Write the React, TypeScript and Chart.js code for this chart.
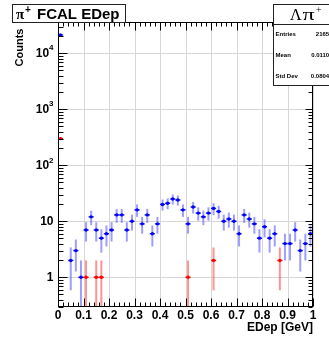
import React, { useEffect, useRef } from "react";
import { Chart, registerables } from "chart.js";

Chart.register(...registerables);

// ---------- data ----------
const binWidth = 0.02;
const binCenters = [
  0.01, 0.03, 0.05, 0.07, 0.09, 0.11, 0.13, 0.15, 0.17, 0.19,
  0.21, 0.23, 0.25, 0.27, 0.29, 0.31, 0.33, 0.35, 0.37, 0.39,
  0.41, 0.43, 0.45, 0.47, 0.49, 0.51, 0.53, 0.55, 0.57, 0.59,
  0.61, 0.63, 0.65, 0.67, 0.69, 0.71, 0.73, 0.75, 0.77, 0.79,
  0.81, 0.83, 0.85, 0.87, 0.89, 0.91, 0.93, 0.95, 0.97, 0.99,
];
const blueCounts = [
  21180, 0, 2, 3, 1, 7, 12, 7, 5, 6,
  7, 13, 13, 7, 10, 16, 9, 13, 6, 9,
  20, 21, 25, 24, 16, 9, 18, 14, 12, 14,
  17, 15, 10, 11, 10, 6, 13, 11, 9, 5,
  8, 5, 6, 0, 4, 4, 7, 3, 4, 6,
];
const redCounts = [
  300, 0, 0, 0, 0, 1, 0, 1, 1, 0,
  0, 0, 0, 0, 0, 0, 0, 0, 0, 0,
  0, 0, 0, 0, 0, 1, 0, 0, 0, 0,
  2, 0, 0, 0, 0, 0, 0, 0, 0, 0,
  0, 0, 0, 2, 0, 0, 0, 0, 0, 0,
];
const xTickValues = [0, 0.1, 0.2, 0.3, 0.4, 0.5, 0.6, 0.7, 0.8, 0.9, 1];
const xTickLabels = ["0", "0.1", "0.2", "0.3", "0.4", "0.5", "0.6", "0.7", "0.8", "0.9", "1"];
const yTickValues = [1, 10, 100, 1000, 10000];
const yTickBases = ["1", "10", "10", "10", "10"];
const yTickExponents = ["", "", "2", "3", "4"];
const statsLabels = ["Entries", "Mean", "Std Dev"];
const statsValues = ["21653", "0.01104", "0.08042"];

const Y_MIN = 0.295;
const Y_MAX = 36200;

function toPoints(counts: number[]) {
  const pts: { x: number; y: number }[] = [];
  counts.forEach((n, i) => {
    if (n > 0) pts.push({ x: binCenters[i], y: n });
  });
  return pts;
}

function drawErrors(chart: any, counts: number[], barColor: string, capColor: string) {
  const { ctx, chartArea: a, scales } = chart;
  const xs = scales.x;
  const ys = scales.y;
  counts.forEach((n, i) => {
    if (n <= 0) return;
    const cx = xs.getPixelForValue(binCenters[i]);
    const e = Math.sqrt(n);
    const hi = n + e;
    const lo = n - e;
    const pyHi = ys.getPixelForValue(hi);
    const pyLo = lo > Y_MIN ? ys.getPixelForValue(lo) : a.bottom;
    const py = ys.getPixelForValue(n);
    ctx.strokeStyle = barColor;
    ctx.lineWidth = 2;
    ctx.beginPath();
    ctx.moveTo(cx, pyHi);
    ctx.lineTo(cx, pyLo);
    ctx.stroke();
    const x0 = xs.getPixelForValue(binCenters[i] - binWidth / 2);
    const x1 = xs.getPixelForValue(binCenters[i] + binWidth / 2);
    ctx.strokeStyle = capColor;
    ctx.lineWidth = 1.5;
    ctx.beginPath();
    ctx.moveTo(x0, py);
    ctx.lineTo(x1, py);
    ctx.stroke();
  });
}

const rootPlugin = {
  id: "rootStyle",
  beforeDatasetsDraw(chart: any) {
    const { ctx, chartArea: a, scales } = chart;
    const xs = scales.x;
    const ys = scales.y;
    ctx.save();
    ctx.fillStyle = "#ffffff";
    ctx.fillRect(0, 0, chart.width, chart.height);
    // grid
    ctx.strokeStyle = "#d6d6d6";
    ctx.lineWidth = 1;
    xTickValues.forEach((v) => {
      const px = Math.round(xs.getPixelForValue(v)) + 0.5;
      ctx.beginPath();
      ctx.moveTo(px, a.top);
      ctx.lineTo(px, a.bottom);
      ctx.stroke();
    });
    yTickValues.forEach((v) => {
      const py = Math.round(ys.getPixelForValue(v)) + 0.5;
      ctx.beginPath();
      ctx.moveTo(a.left, py);
      ctx.lineTo(a.right, py);
      ctx.stroke();
    });
    // error bars
    ctx.beginPath();
    ctx.rect(a.left, a.top, a.right - a.left, a.bottom - a.top);
    ctx.clip();
    drawErrors(chart, blueCounts, "rgba(40,40,255,0.45)", "rgba(0,0,255,0.9)");
    drawErrors(chart, redCounts, "rgba(255,40,40,0.5)", "rgba(255,0,0,0.9)");
    ctx.restore();
  },
  afterDatasetsDraw(chart: any) {
    const { ctx, chartArea: a, scales } = chart;
    const xs = scales.x;
    const ys = scales.y;
    ctx.save();
    ctx.strokeStyle = "#000000";
    ctx.lineWidth = 1;
    const L = Math.round(a.left) + 0.5;
    const R = Math.round(a.right) - 0.5;
    const T = Math.round(a.top) + 0.5;
    const B = Math.round(a.bottom) - 0.5;
    // frame
    ctx.strokeRect(L, T, R - L, B - T);
    // y ticks (log, major + minor)
    for (let d = -1; d <= 4; d++) {
      for (let k = 1; k <= 9; k++) {
        const v = k * Math.pow(10, d);
        if (v < Y_MIN || v > Y_MAX) continue;
        const py = Math.round(ys.getPixelForValue(v)) + 0.5;
        const major = k === 1;
        ctx.beginPath();
        ctx.moveTo(L, py);
        ctx.lineTo(L + (major ? 9 : 5), py);
        ctx.moveTo(R, py);
        ctx.lineTo(R - (major ? 7 : 4), py);
        ctx.stroke();
      }
    }
    // x ticks
    for (let i = 0; i <= 50; i++) {
      const v = i * binWidth;
      const px = Math.round(xs.getPixelForValue(v)) + 0.5;
      const major = i % 5 === 0;
      ctx.beginPath();
      ctx.moveTo(px, B);
      ctx.lineTo(px, B - (major ? 8 : 4));
      ctx.moveTo(px, T);
      ctx.lineTo(px, T + (major ? 8 : 4));
      ctx.stroke();
    }
    // labels
    ctx.fillStyle = "#000000";
    ctx.font = "bold 12px 'Liberation Sans', Arial, sans-serif";
    ctx.textBaseline = "middle";
    ctx.textAlign = "center";
    xTickValues.forEach((v, i) => {
      ctx.fillText(xTickLabels[i], xs.getPixelForValue(v), 315.5);
    });
    yTickValues.forEach((v, i) => {
      const py = ys.getPixelForValue(v);
      const rightEdge = 53.5;
      ctx.textAlign = "right";
      if (yTickExponents[i]) {
        ctx.font = "bold 8px 'Liberation Sans', Arial, sans-serif";
        const w = ctx.measureText(yTickExponents[i]).width;
        ctx.fillText(yTickExponents[i], rightEdge, py - 5);
        ctx.font = "bold 12px 'Liberation Sans', Arial, sans-serif";
        ctx.fillText(yTickBases[i], rightEdge - w, py);
      } else {
        ctx.font = "bold 12px 'Liberation Sans', Arial, sans-serif";
        ctx.fillText(yTickBases[i], rightEdge, py);
      }
    });
    // axis titles
    ctx.font = "bold 12px 'Liberation Sans', Arial, sans-serif";
    ctx.textAlign = "right";
    ctx.textBaseline = "alphabetic";
    ctx.fillText("EDep [GeV]", R + 0.5, 331);
    ctx.save();
    ctx.translate(19.5, 47.5);
    ctx.rotate(-Math.PI / 2);
    ctx.font = "bold 11px 'Liberation Sans', Arial, sans-serif";
    ctx.textAlign = "center";
    ctx.textBaseline = "middle";
    ctx.fillText("Counts", 0, 0);
    ctx.restore();

    // title box
    ctx.fillStyle = "#ffffff";
    ctx.fillRect(12.5, 4.5, 113, 18);
    ctx.strokeStyle = "#222222";
    ctx.strokeRect(12.5, 4.5, 113, 18);
    ctx.fillStyle = "#000000";
    ctx.textAlign = "left";
    ctx.textBaseline = "alphabetic";
    ctx.font = "bold 15px 'Liberation Serif', serif";
    ctx.fillText("π", 16, 18.5);
    ctx.font = "bold 10px 'Liberation Sans', Arial, sans-serif";
    ctx.fillText("+", 25, 13);
    ctx.font = "bold 15px 'Liberation Sans', Arial, sans-serif";
    ctx.fillText("FCAL EDep", 37, 18.5);

    // stats box
    ctx.fillStyle = "#ffffff";
    ctx.fillRect(273.5, 4.5, 70, 81);
    ctx.strokeStyle = "#222222";
    ctx.strokeRect(273.5, 4.5, 70, 81);
    ctx.beginPath();
    ctx.moveTo(273.5, 24.5);
    ctx.lineTo(343.5, 24.5);
    ctx.stroke();
    ctx.fillStyle = "#000000";
    ctx.font = "16px 'Liberation Serif', 'Times New Roman', serif";
    ctx.fillText("Λ", 290, 20);
    ctx.save();
    ctx.translate(302.5, 20);
    ctx.scale(1.5, 1);
    ctx.font = "16px 'Liberation Serif', serif";
    ctx.fillText("π", 0, 0);
    ctx.restore();
    ctx.font = "10px 'Liberation Serif', serif";
    ctx.fillText("+", 316, 13);
    const rowsY = [34.3, 55.5, 76];
    ctx.font = "bold 6px 'Liberation Sans', Arial, sans-serif";
    ctx.textBaseline = "middle";
    statsLabels.forEach((lab, i) => {
      ctx.textAlign = "left";
      ctx.fillText(lab, 275.5, rowsY[i]);
      ctx.textAlign = "right";
      ctx.fillText(statsValues[i], 332.5, rowsY[i]);
    });
    ctx.restore();
  },
};

export default function App() {
  const canvasRef = useRef<HTMLCanvasElement | null>(null);

  useEffect(() => {
    if (!canvasRef.current) return;
    const chart = new Chart(canvasRef.current, {
      type: "scatter",
      data: {
        datasets: [
          {
            label: "blue",
            data: toPoints(blueCounts),
            pointRadius: 1.7,
            pointBackgroundColor: "#0000ff",
            pointBorderWidth: 0,
            showLine: false,
          },
          {
            label: "red",
            data: toPoints(redCounts),
            pointRadius: 1.7,
            pointBackgroundColor: "#ff0000",
            pointBorderWidth: 0,
            showLine: false,
          },
        ],
      },
      options: {
        responsive: false,
        animation: false,
        devicePixelRatio: 1,
        layout: { padding: { left: 58, right: 16, top: 22, bottom: 30 } },
        plugins: { legend: { display: false }, tooltip: { enabled: false } },
        scales: {
          x: { type: "linear", min: 0, max: 1, display: false },
          y: { type: "logarithmic", min: Y_MIN, max: Y_MAX, display: false },
        },
      },
      plugins: [rootPlugin],
    });
    return () => chart.destroy();
  }, []);

  return (
    <div style={{ position: "absolute", left: 0, top: 0, width: 329, height: 337, background: "#fff" }}>
      <canvas ref={canvasRef} width={329} height={337} style={{ display: "block" }} />
    </div>
  );
}
